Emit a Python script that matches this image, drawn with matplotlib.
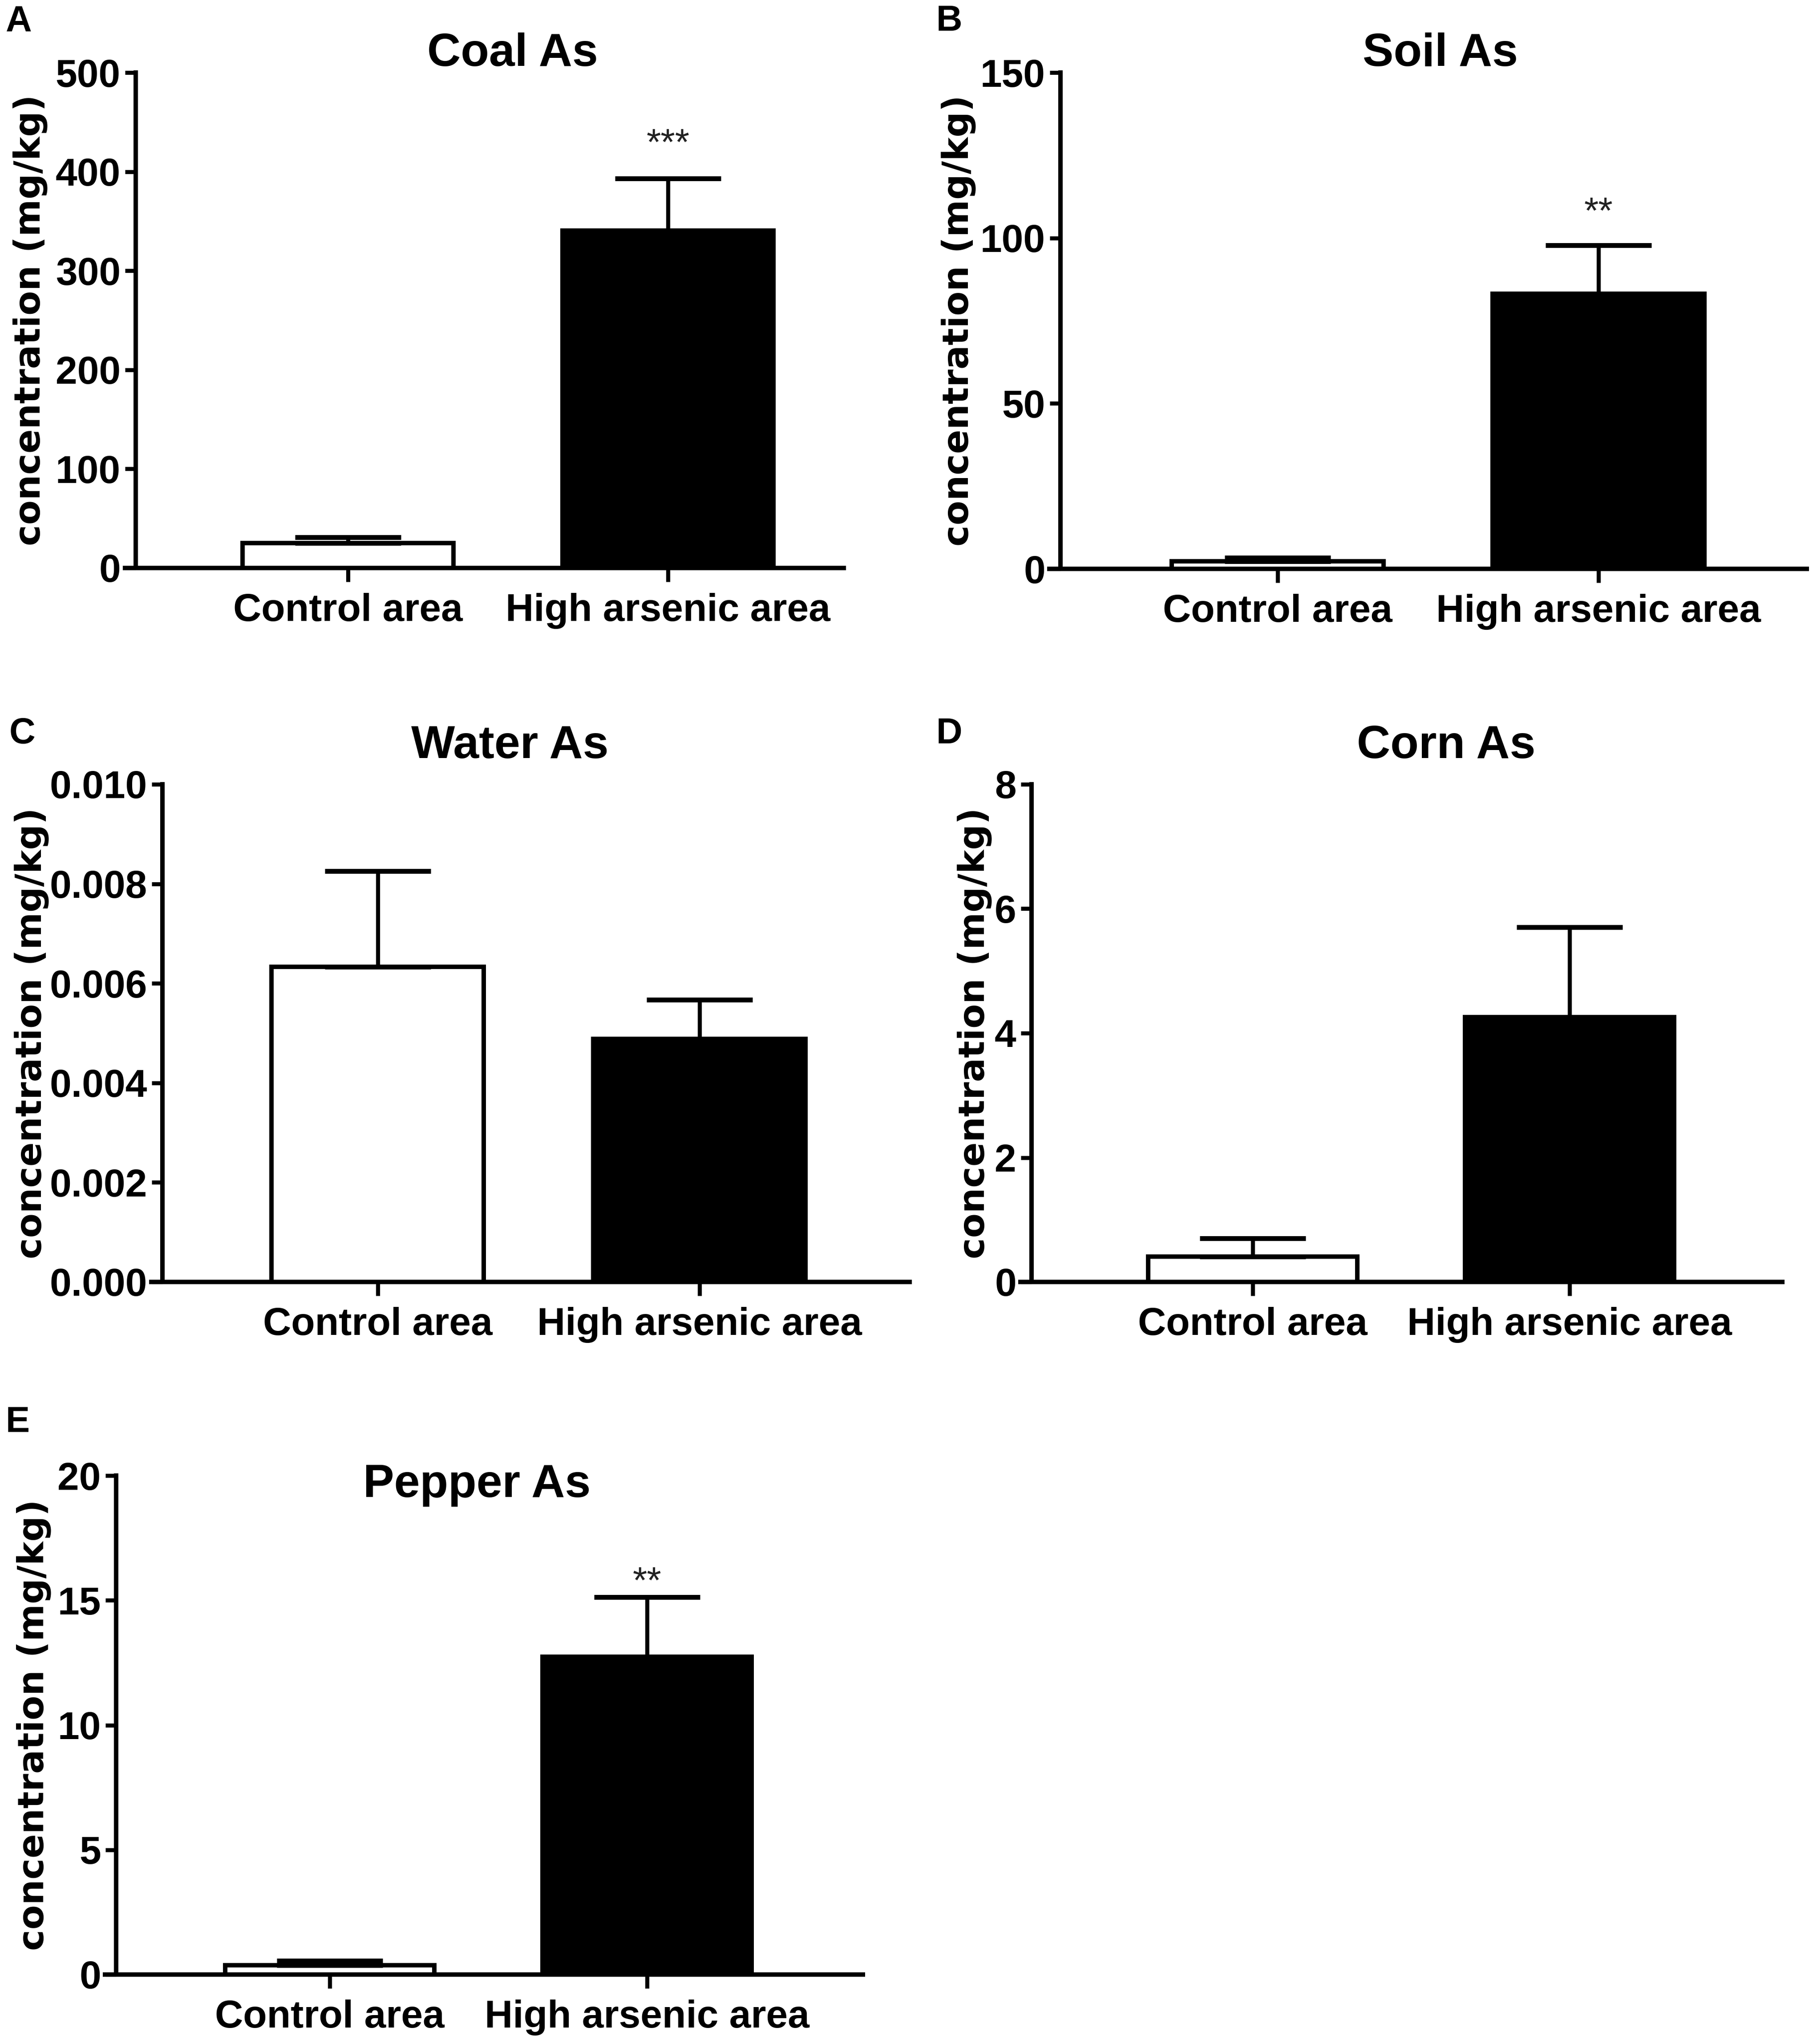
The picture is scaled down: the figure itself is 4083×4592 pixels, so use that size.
import numpy as np
import matplotlib
matplotlib.use('Agg')
import matplotlib.pyplot as plt

# values (mean, upper error = SEM)
groups = ['Control area', 'High arsenic area']

coal_mean = [25.0, 340.5]
coal_sem = [6.0, 52.5]
soil_mean = [2.3, 83.1]
soil_sem = [1.1, 14.7]
water_mean = [0.00633, 0.00488]
water_sem = [0.00193, 0.00079]
corn_mean = [0.41, 4.26]
corn_sem = [0.29, 1.44]
pepper_mean = [0.37, 12.74]
pepper_sem = [0.18, 2.39]

titles = ['Coal As', 'Soil As', 'Water As', 'Corn As', 'Pepper As']
letters = ['A', 'B', 'C', 'D', 'E']
yticks = [
    [0, 100, 200, 300, 400, 500],
    [0, 50, 100, 150],
    [0.000, 0.002, 0.004, 0.006, 0.008, 0.010],
    [0, 2, 4, 6, 8],
    [0, 5, 10, 15, 20],
]
tick_fmt = ['{:g}', '{:g}', '{:.3f}', '{:g}', '{:g}']
stars = ['***', '**', '', '', '**']
star_y = [417, 104.4, None, None, 15.3]

means = [coal_mean, soil_mean, water_mean, corn_mean, pepper_mean]
sems = [coal_sem, soil_sem, water_sem, corn_sem, pepper_sem]

W, H = 4083, 4592
DPI = 300

# layout in pixels of the original picture: x0, x1, y_top, y_bottom
rects = [
    (305, 1896, 163, 1276),
    (2383, 4060, 163, 1278),
    (365, 2044, 1762, 2880),
    (2318, 4005, 1762, 2880),
    (261, 1939, 3315, 4436),
]
xlims = [(-0.663, 1.549), (-0.677, 1.649), (-0.669, 1.653),
         (-0.698, 1.671), (-0.673, 1.68)]
title_pos = [(0.532, 1.0135), (0.509, 1.0135), (0.465, 1.053),
             (0.552, 1.053), (0.483, 0.957)]
ylabel_x = [-0.1245, -0.113, -0.152, -0.053, -0.087]
letter_pos = [(13, 69), (2104, 69), (21, 1670), (2104, 1670), (13, 3217)]

plt.rcParams['font.family'] = ['Liberation Sans', 'DejaVu Sans']
LW = 2.4

fig = plt.figure(figsize=(W / DPI, H / DPI), dpi=DPI)

for i in range(5):
    x0, x1, yt, yb = rects[i]
    ax = fig.add_axes([x0 / W, 1 - yb / H, (x1 - x0) / W, (yb - yt) / H])
    x = np.arange(len(groups))
    m = np.array(means[i])
    s = np.array(sems[i])
    ax.bar(x, m, width=0.66, color=['white', 'black'], edgecolor='black',
           linewidth=LW, zorder=2)
    ax.errorbar(x, m, yerr=[np.zeros_like(s), s], fmt='none', ecolor='black',
                elinewidth=2.2, capsize=28.5, capthick=2.6, zorder=3)

    ax.set_xlim(*xlims[i])
    ax.set_ylim(yticks[i][0], yticks[i][-1])
    ax.set_yticks(yticks[i])
    ax.set_yticklabels([tick_fmt[i].format(v) for v in yticks[i]])
    ax.set_xticks(x)
    ax.set_xticklabels(groups)

    for side in ['top', 'right']:
        ax.spines[side].set_visible(False)
    for side in ['left', 'bottom']:
        ax.spines[side].set_linewidth(LW)
    ax.axhline(0, xmin=-0.015, xmax=0, color='black', linewidth=LW,
               clip_on=False)

    ax.tick_params(axis='y', length=5.8, width=2.2, pad=2.4, labelsize=21)
    ax.tick_params(axis='x', length=7.5, width=2.2, pad=6, labelsize=21)
    for lab in ax.get_xticklabels() + ax.get_yticklabels():
        lab.set_fontweight('bold')

    ax.set_ylabel('concentration (mg/kg)', fontsize=19.3, fontweight='bold',
                  family='DejaVu Sans')
    ax.yaxis.set_label_coords(ylabel_x[i], 0.5)

    tx, ty = title_pos[i]
    ax.text(tx, ty, titles[i], transform=ax.transAxes, ha='center',
            va='baseline', fontsize=25, fontweight='bold', clip_on=False)

    if stars[i]:
        ax.text(1, star_y[i], stars[i], ha='center', va='baseline',
                fontsize=20, color='#222222', clip_on=False)

    lx, ly = letter_pos[i]
    fig.text(lx / W, 1 - ly / H, letters[i], ha='left', va='baseline',
             fontsize=19.5, fontweight='bold')

fig.savefig('out.png', dpi=DPI, facecolor='white')
